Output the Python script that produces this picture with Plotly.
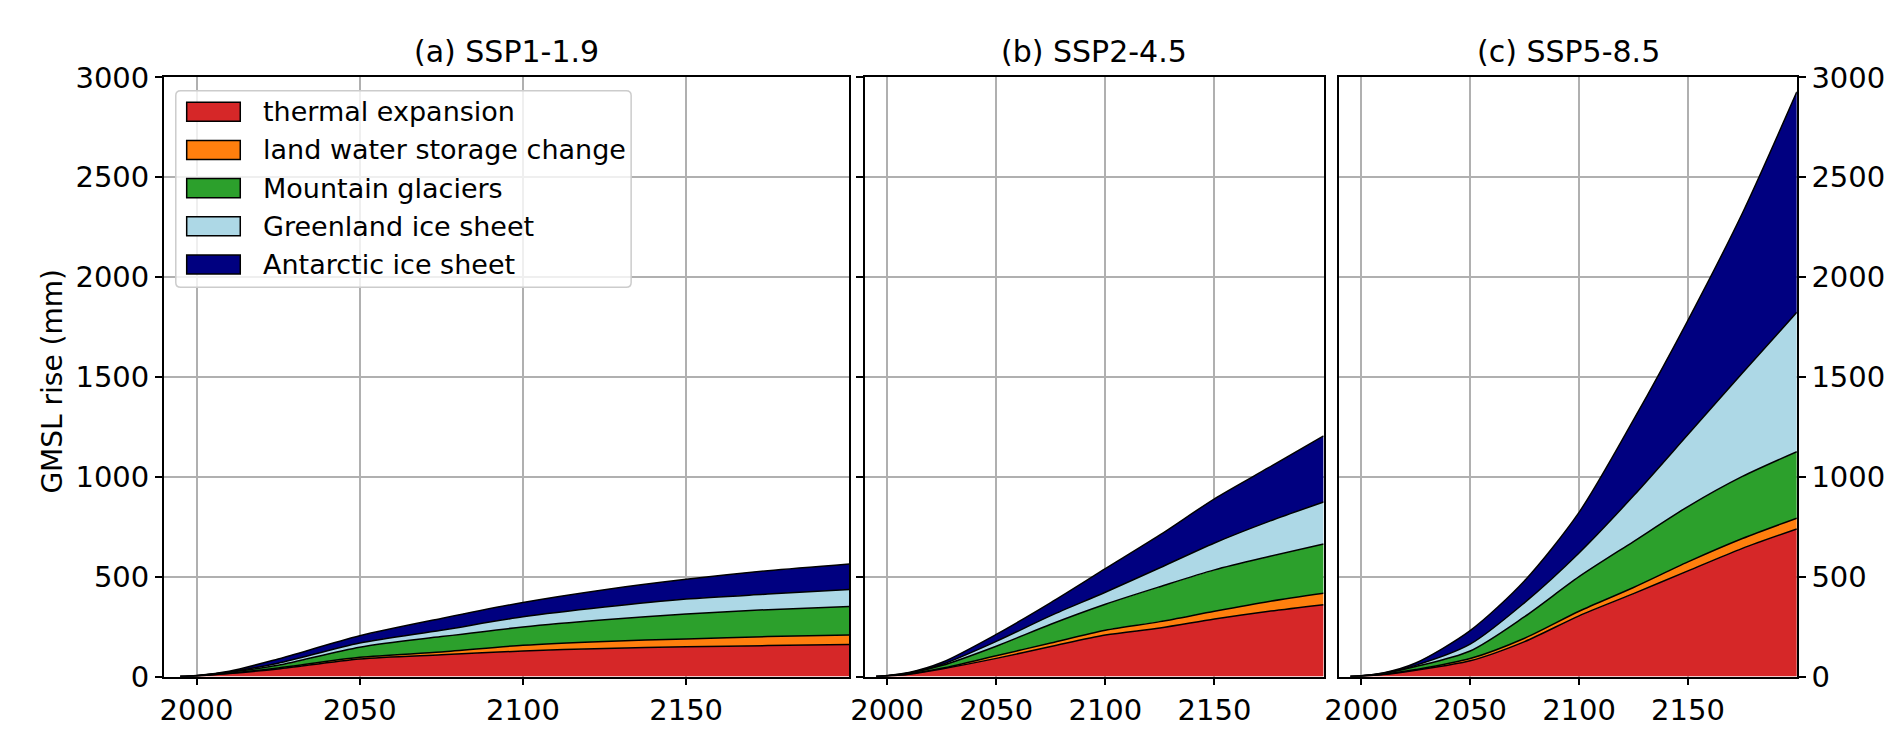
import plotly.graph_objects as go

# ---- data (mm) ----
years = [1995, 2000, 2010, 2025, 2050, 2075, 2100, 2125, 2150, 2175, 2200]
components = ["thermal expansion", "land water storage change", "Mountain glaciers",
              "Greenland ice sheet", "Antarctic ice sheet"]
colors = ["#d62728", "#ff7f0e", "#2ca02c", "#add8e6", "#000080"]
titles = ["(a) SSP1-1.9", "(b) SSP2-4.5", "(c) SSP5-8.5"]
y_label = "GMSL rise (mm)"
x_ticks = [2000, 2050, 2100, 2150]

# SSP1-1.9
a_thermal   = [0, 3, 15, 38, 88, 109, 128, 141, 149, 155, 160]
a_land      = [0, 0, 1, 5, 8, 14, 29, 35, 39, 45, 48]
a_glaciers  = [0, 1, 5, 13, 51, 77, 91, 108, 125, 135, 143]
a_greenland = [0, 0.5, 2, 11, 21, 32, 51, 64, 75, 78, 85]
a_antarctic = [0, 0.5, 3, 21, 36, 59, 72, 87, 99, 117, 128]

# SSP2-4.5
b_thermal   = [0, 3, 12, 38, 91, 150, 208, 243, 288, 327, 360]
b_land      = [0, 0, 1, 3, 13, 18, 24, 32, 39, 49, 57]
b_glaciers  = [0, 1, 4, 14, 48, 94, 130, 175, 207, 225, 247]
b_greenland = [0, 0.5, 1, 5, 24, 43, 60, 95, 135, 176, 210]
b_antarctic = [0, 0.5, 2, 10, 35, 65, 118, 164, 221, 270, 331]

# SSP5-8.5
c_thermal   = [0, 2, 10, 32, 79, 175, 304, 415, 529, 642, 739]
c_land      = [0, 0, 1, 3, 11, 17, 23, 31, 45, 49, 54]
c_glaciers  = [0, 1, 4, 15, 38, 108, 173, 230, 277, 311, 333]
c_greenland = [0, 0.5, 1, 6, 34, 70, 119, 229, 361, 518, 698]
c_antarctic = [0, 0.5, 2, 12, 68, 110, 203, 380, 572, 800, 1104]

panels = [
    [a_thermal, a_land, a_glaciers, a_greenland, a_antarctic],
    [b_thermal, b_land, b_glaciers, b_greenland, b_antarctic],
    [c_thermal, c_land, c_glaciers, c_greenland, c_antarctic],
]

W, H = 1892, 738
FONT = "DejaVu Sans"
FS_TICK, FS_TITLE, FS_LEG, FS_YT = 29, 30, 27, 28

# panel geometry (pixels)
x_px = [(142, 833), (849, 1311), (1327, 1788)]
y_top, y_bot = 55, 683


def px(x):
    return x / W


def py(y):
    return 1 - y / H


fig = go.Figure()
for p, series in enumerate(panels):
    for i, vals in enumerate(series):
        fig.add_trace(go.Scatter(
            x=years, y=vals, mode="lines", stackgroup=f"s{p}",
            line=dict(color="black", width=1.5, shape="spline", smoothing=0.8),
            fillcolor=colors[i], name=components[i],
            showlegend=False,
            xaxis=f"x{p+1 if p else ''}", yaxis=f"y{p+1 if p else ''}",
        ))

ydom = [py(y_bot), py(y_top)]
axis_common = dict(showline=True, linecolor="black", linewidth=1.6, mirror=True,
                   showgrid=True, gridcolor="#b0b0b0", gridwidth=1.6,
                   ticks="outside", ticklen=7, tickwidth=1.6, tickcolor="black",
                   tickfont=dict(family=FONT, size=FS_TICK, color="black"),
                   zeroline=False, layer="above traces")
layout = dict(width=W, height=H, margin=dict(l=0, r=0, t=0, b=0),
              plot_bgcolor="white", paper_bgcolor="white", showlegend=False,
              font=dict(family=FONT, size=FS_TICK, color="black"))
for p in range(3):
    sfx = str(p + 1) if p else ""
    layout[f"xaxis{sfx}"] = dict(axis_common, domain=[px(x_px[p][0]), px(x_px[p][1])],
                                 range=[1990, 2200], tickvals=x_ticks,
                                 anchor=f"y{sfx}")
    yax = dict(axis_common, domain=ydom, range=[0, 3000], dtick=500,
               anchor=f"x{sfx}")
    if p == 1:
        yax["showticklabels"] = False
    if p == 2:
        yax["side"] = "right"
    layout[f"yaxis{sfx}"] = yax

annotations = []
for p in range(3):
    annotations.append(dict(
        text=titles[p], x=px((x_px[p][0] + x_px[p][1]) / 2), y=ydom[1],
        xref="paper", yref="paper", xanchor="center", yanchor="bottom",
        yshift=6, showarrow=False, font=dict(family=FONT, size=FS_TITLE, color="black")))
annotations.append(dict(
    text=y_label, x=px(30), y=py(373), xref="paper", yref="paper",
    xanchor="center", yanchor="middle", textangle=-90, showarrow=False,
    font=dict(family=FONT, size=FS_YT, color="black")))

# ---- legend (matplotlib style: patches with black edge in a rounded frame) ----
shapes = []
L, T, R, B, r = 154, 69, 613, 275, 5
path = (f"M {px(L + r)},{py(T)} L {px(R - r)},{py(T)} Q {px(R)},{py(T)} {px(R)},{py(T + r)} "
        f"L {px(R)},{py(B - r)} Q {px(R)},{py(B)} {px(R - r)},{py(B)} "
        f"L {px(L + r)},{py(B)} Q {px(L)},{py(B)} {px(L)},{py(B - r)} "
        f"L {px(L)},{py(T + r)} Q {px(L)},{py(T)} {px(L + r)},{py(T)} Z")
shapes.append(dict(type="path", path=path, xref="paper", yref="paper",
                   fillcolor="rgba(255,255,255,0.8)", line=dict(color="#cccccc", width=1.5),
                   layer="above"))
for k, name in enumerate(components):
    top = 81 + 40 * k
    shapes.append(dict(type="rect", xref="paper", yref="paper",
                       x0=px(165), x1=px(219), y0=py(top), y1=py(top + 20),
                       fillcolor=colors[k], line=dict(color="black", width=1.5),
                       layer="above"))
    annotations.append(dict(text=name, x=px(240), y=py(top + 10), xref="paper", yref="paper",
                            xanchor="left", yanchor="middle", showarrow=False,
                            font=dict(family=FONT, size=FS_LEG, color="black")))
layout["shapes"] = shapes
layout["annotations"] = annotations
fig.update_layout(**layout)
fig.write_html("out.html")
